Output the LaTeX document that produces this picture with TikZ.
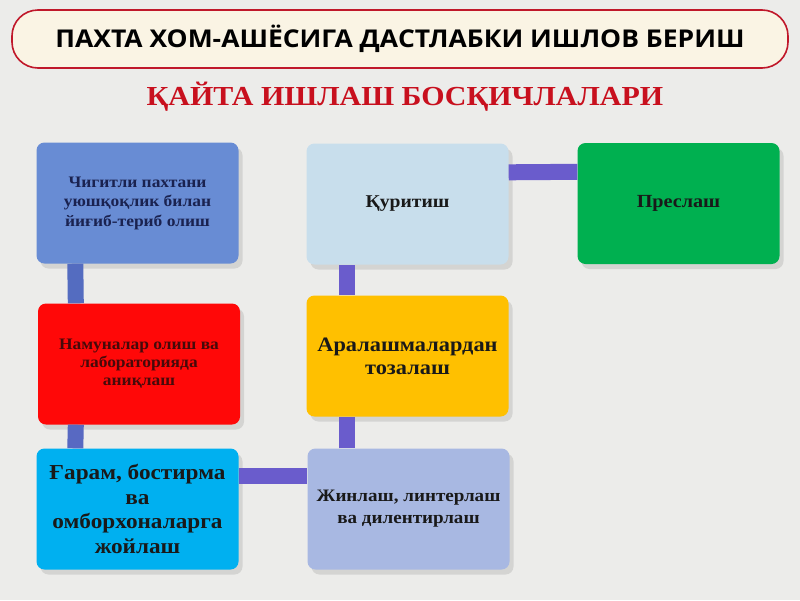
\documentclass[tikz,border=0pt]{standalone}
\usepackage{fontspec}
\setmainfont{Liberation Serif}[FakeStretch=1.09]
\newfontfamily\headfont{Open Sans}[FakeStretch=1.08]
\usetikzlibrary{shadows}
\definecolor{paper}{RGB}{236,236,234}
\definecolor{cream}{RGB}{250,244,228}
\definecolor{rimred}{RGB}{192,24,42}
\definecolor{subred}{RGB}{200,16,30}
\definecolor{pickblue}{RGB}{104,140,212}
\definecolor{samplered}{RGB}{255,8,8}
\definecolor{storecyan}{RGB}{0,176,240}
\definecolor{ginlav}{RGB}{168,184,226}
\definecolor{cleanyel}{RGB}{255,192,0}
\definecolor{drysky}{RGB}{200,222,236}
\definecolor{pressgreen}{RGB}{0,176,80}
\definecolor{barblue}{RGB}{84,108,192}
\definecolor{barviolet}{RGB}{106,92,204}
\tikzset{stage/.style={rounded corners=8pt, minimum width=202pt, minimum height=121pt,
    inner sep=0pt, align=center, text=black!90,
    drop shadow={opacity=0.22, shadow xshift=4pt, shadow yshift=-5pt}}}
\tikzset{link/.style={line width=16pt}}
\begin{document}
\begin{tikzpicture}[x=1pt, y=-1pt]
  \useasboundingbox[fill=paper] (0,0) rectangle (800,600);
  \node[rounded corners=26pt, draw=rimred, line width=1.6pt, fill=cream,
        minimum width=776pt, minimum height=58pt,
        font={\headfont\fontsize{24.5}{27}\selectfont\bfseries}] (head) at (400,39)
        {ПАХТА ХОМ-АШЁСИГА ДАСТЛАБКИ ИШЛОВ БЕРИШ};
  \node[text=subred, font={\fontsize{27.5}{30}\selectfont\bfseries}] (sub) at (405,97)
        {ҚАЙТА ИШЛАШ БОСҚИЧЛАЛАРИ};
  % stages
  \node[stage, fill=pickblue, text={rgb,255:red,26;green,34;blue,80},
        font={\fontsize{16}{19.5}\selectfont\bfseries}] (pick) at (137.5,203)
        {Чигитли пахтани\\уюшқоқлик билан\\йиғиб-териб олиш};
  \node[stage, fill=samplered, text={rgb,255:red,70;green,10;blue,10},
        font={\fontsize{16}{18}\selectfont\bfseries}] (sample) at (139,364)
        {Намуналар олиш ва\\лабораторияда\\аниқлаш};
  \node[stage, fill=storecyan, font={\fontsize{21.3}{24.5}\selectfont\bfseries}] (store) at (137.5,509)
        {Ғарам, бостирма\\ва\\омборхоналарга\\жойлаш};
  \node[stage, fill=ginlav, font={\fontsize{17.5}{22}\selectfont\bfseries}] (gin) at (408.5,509)
        {Жинлаш, линтерлаш\\ва дилентирлаш};
  \node[stage, fill=cleanyel, font={\fontsize{20.5}{23}\selectfont\bfseries}] (clean) at (407.5,356)
        {Аралашмалардан\\тозалаш};
  \node[stage, fill=drysky, font={\fontsize{18}{20}\selectfont\bfseries}] (dry) at (407.5,204)
        {Қуритиш};
  \node[stage, fill=pressgreen, font={\fontsize{18.5}{20}\selectfont\bfseries}] (press) at (678.5,203.5)
        {Преслаш};
  % links
  \draw[link, barblue] ([xshift=39pt]pick.south west) -- ([xshift=38pt]sample.north west);
  \draw[link, barblue!80!barviolet] ([xshift=38pt]sample.south west) -- ([xshift=39pt]store.north west);
  \draw[link, barviolet] ([yshift=-28pt]store.north east) -- ([yshift=-28pt]gin.north west);
  \draw[link, barviolet] ([xshift=40pt]gin.north west) -- ([xshift=41pt]clean.south west);
  \draw[link, barviolet] ([xshift=41pt]clean.north west) -- ([xshift=41pt]dry.south west);
  \draw[link, barviolet] ([yshift=-29pt]dry.north east) -- ([yshift=-29pt]press.north west);
\end{tikzpicture}
\end{document}
